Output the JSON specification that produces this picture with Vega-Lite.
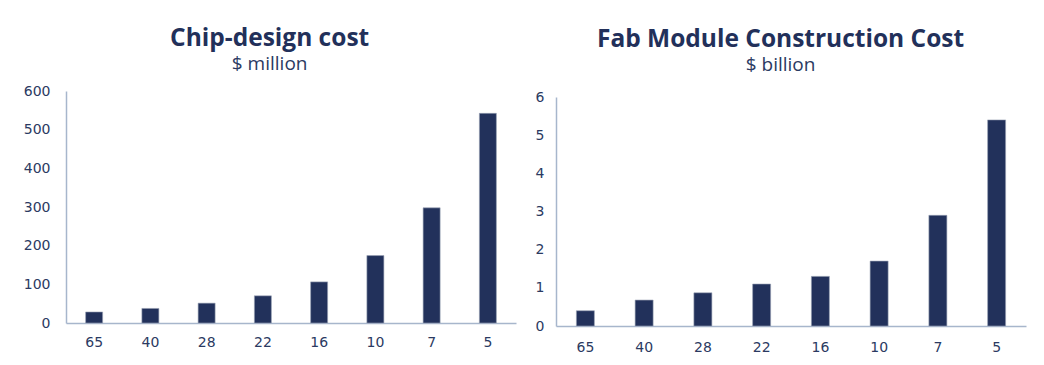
{
  "$schema": "https://vega.github.io/schema/vega-lite/v6.json",
  "background": "white",
  "padding": {"left": 23, "top": 25, "right": 5, "bottom": 5},
  "spacing": 19,
  "datasets": {
    "design": [
      {"node": "65", "cost": 28.5},
      {"node": "40", "cost": 37.7},
      {"node": "28", "cost": 51.3},
      {"node": "22", "cost": 70.3},
      {"node": "16", "cost": 106.3},
      {"node": "10", "cost": 174.4},
      {"node": "7", "cost": 297.8},
      {"node": "5", "cost": 542.2}
    ],
    "fab": [
      {"node": "65", "cost": 0.4},
      {"node": "40", "cost": 0.68},
      {"node": "28", "cost": 0.87},
      {"node": "22", "cost": 1.1},
      {"node": "16", "cost": 1.3},
      {"node": "10", "cost": 1.7},
      {"node": "7", "cost": 2.9},
      {"node": "5", "cost": 5.4}
    ]
  },
  "config": {
    "font": "Open Sans",
    "view": {"stroke": null},
    "title": {"anchor": "middle", "frame": "bounds", "fontSize": 24.5, "fontWeight": "bold", "color": "#22305a", "subtitleFontSize": 19, "subtitleColor": "#2b3a62", "subtitlePadding": 4, "offset": 9},
    "axis": {"grid": false, "ticks": false, "tickSize": 0, "domainColor": "#a7b6cc", "domainWidth": 1.5, "labelColor": "#2b3a62", "labelFont": "DejaVu Sans", "labelFontSize": 14, "title": null},
    "axisX": {"labelPadding": 12, "labelAngle": 0},
    "axisY": {"labelPadding": 16, "domain": true}
  },
  "hconcat": [
    {
      "width": 450,
      "height": 232,
      "title": {"text": "Chip-design cost", "subtitle": "$ million"},
      "data": {"name": "design"},
      "mark": {"type": "bar", "color": "#22315b", "stroke": "#9aa3b5", "strokeWidth": 0.6, "width": 17},
      "encoding": {
        "x": {"field": "node", "type": "nominal", "sort": null, "scale": {"paddingInner": 0.7, "paddingOuter": 0.35}},
        "y": {"field": "cost", "type": "quantitative", "scale": {"domain": [0, 600]}, "axis": {"values": [0, 100, 200, 300, 400, 500, 600]}}
      }
    },
    {
      "width": 470,
      "height": 235,
      "title": {"text": "Fab Module Construction Cost", "subtitle": "$ billion", "offset": 14},
      "data": {"name": "fab"},
      "mark": {"type": "bar", "color": "#22315b", "stroke": "#9aa3b5", "strokeWidth": 0.6, "width": 18},
      "encoding": {
        "x": {"field": "node", "type": "nominal", "sort": null, "scale": {"paddingInner": 0.7, "paddingOuter": 0.35}, "axis": {"labelPadding": 14}},
        "y": {"field": "cost", "type": "quantitative", "scale": {"domain": [0, 6], "range": [235, 6]}, "axis": {"values": [0, 1, 2, 3, 4, 5, 6], "labelPadding": 12}}
      }
    }
  ]
}
